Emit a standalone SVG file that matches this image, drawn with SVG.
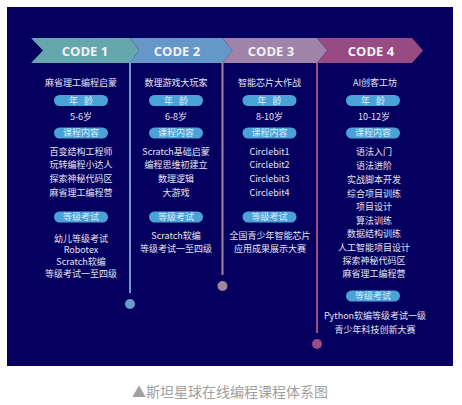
<svg xmlns="http://www.w3.org/2000/svg" width="462" height="405" viewBox="0 0 462 405">
<style>
.t{font-family:"Noto Sans CJK SC","Noto Sans",sans-serif;font-size:9px;fill:#e6e4f0;text-anchor:middle}
.p{font-family:"Noto Sans CJK SC","Noto Sans",sans-serif;font-size:9px;fill:#dcecf8;text-anchor:middle}
.w{word-spacing:4px}
.pill{fill:#4aa2d8}
.h{font-family:"Open Sans","Noto Sans",sans-serif;font-size:13px;font-weight:bold;fill:#f2f2f6;text-anchor:middle}
.cap{font-family:"Noto Sans CJK SC","Noto Sans",sans-serif;font-size:14px;fill:#a0a0a0;text-anchor:middle}
</style>
<rect width="462" height="405" fill="#ffffff"/>
<rect x="7" y="7" width="446" height="359" fill="#05005f"/>
<g id="connectors">
<line x1="130" y1="62" x2="130" y2="293" stroke="#6a9ccc" stroke-width="2"/>
<circle cx="130" cy="304" r="5" fill="#6a9ccc"/>
<line x1="222.5" y1="62" x2="222.5" y2="275" stroke="#a2849f" stroke-width="2"/>
<circle cx="222.5" cy="286" r="5" fill="#a2849f"/>
<line x1="317" y1="62" x2="317" y2="333" stroke="#9a4c84" stroke-width="2"/>
<circle cx="317" cy="344" r="5" fill="#9a4c84"/>
</g>
<g id="code1">
<polygon points="31,38 130,38 139,50.5 130,63 31,63 43,50.5" fill="#66a7ae"/>
<text class="h" x="85" y="56">CODE 1</text>
<text class="t" x="81" y="86">麻省理工编程启蒙</text>
<rect class="pill" x="54" y="95" width="54" height="11" rx="5.5"/>
<text class="p w" x="81" y="103.5">年 龄</text>
<text class="t" x="81" y="119.5">5-6岁</text>
<rect class="pill" x="54" y="127.5" width="54" height="11" rx="5.5"/>
<text class="p" x="81" y="136">课程内容</text>
<text class="t" x="81" y="154.5">百变结构工程师</text>
<text class="t" x="81" y="168">玩转编程小达人</text>
<text class="t" x="81" y="181.5">探索神秘代码区</text>
<text class="t" x="81" y="195.5">麻省理工编程营</text>
<rect class="pill" x="54" y="211.5" width="54" height="11" rx="5.5"/>
<text class="p" x="81" y="220">等级考试</text>
<text class="t" x="81" y="241.5">幼儿等级考试</text>
<text class="t" x="81" y="253">Robotex</text>
<text class="t" x="81" y="264.5">Scratch软编</text>
<text class="t" x="81" y="276.5">等级考试一至四级</text>
</g>
<g id="code2">
<polygon points="130,38 222.5,38 232.5,50.5 222.5,63 130,63 139,50.5" fill="#6598c8"/>
<text class="h" x="177" y="56">CODE 2</text>
<text class="t" x="176" y="86">数理游戏大玩家</text>
<rect class="pill" x="149" y="95" width="54" height="11" rx="5.5"/>
<text class="p w" x="176" y="103.5">年 龄</text>
<text class="t" x="176" y="119.5">6-8岁</text>
<rect class="pill" x="149" y="127.5" width="54" height="11" rx="5.5"/>
<text class="p" x="176" y="136">课程内容</text>
<text class="t" x="176" y="154.5">Scratch基础启蒙</text>
<text class="t" x="176" y="168">编程思维初建立</text>
<text class="t" x="176" y="181.5">数理逻辑</text>
<text class="t" x="176" y="195.5">大游戏</text>
<rect class="pill" x="149" y="211.5" width="54" height="11" rx="5.5"/>
<text class="p" x="176" y="220">等级考试</text>
<text class="t" x="176" y="238.5">Scratch软编</text>
<text class="t" x="176" y="251.5">等级考试一至四级</text>
</g>
<g id="code3">
<polygon points="222.5,38 317,38 327.5,50.5 317,63 222.5,63 232.5,50.5" fill="#a083a9"/>
<text class="h" x="271" y="56">CODE 3</text>
<text class="t" x="269.5" y="86">智能芯片大作战</text>
<rect class="pill" x="242.5" y="95" width="54" height="11" rx="5.5"/>
<text class="p w" x="269.5" y="103.5">年 龄</text>
<text class="t" x="269.5" y="119.5">8-10岁</text>
<rect class="pill" x="242.5" y="127.5" width="54" height="11" rx="5.5"/>
<text class="p" x="269.5" y="136">课程内容</text>
<text class="t" x="269.5" y="154.5">Circlebit1</text>
<text class="t" x="269.5" y="168">Circlebit2</text>
<text class="t" x="269.5" y="181.5">Circlebit3</text>
<text class="t" x="269.5" y="195.5">Circlebit4</text>
<rect class="pill" x="242.5" y="211.5" width="54" height="11" rx="5.5"/>
<text class="p" x="269.5" y="220">等级考试</text>
<text class="t" x="270" y="238.5">全国青少年智能芯片</text>
<text class="t" x="270" y="251.5">应用成果展示大赛</text>
</g>
<g id="code4">
<polygon points="317,38 412,38 423,50.5 412,63 317,63 327.5,50.5" fill="#984a83"/>
<text class="h" x="371" y="56">CODE 4</text>
<text class="t" x="375" y="86">AI创客工坊</text>
<rect class="pill" x="346" y="95" width="54" height="11" rx="5.5"/>
<text class="p w" x="373" y="103.5">年 龄</text>
<text class="t" x="374" y="119.5">10-12岁</text>
<rect class="pill" x="346" y="127.5" width="54" height="11" rx="5.5"/>
<text class="p" x="373" y="136">课程内容</text>
<text class="t" x="374" y="154.5">语法入门</text>
<text class="t" x="374" y="168.5">语法进阶</text>
<text class="t" x="374" y="182.5">实战脚本开发</text>
<text class="t" x="374" y="196.5">综合项目训练</text>
<text class="t" x="374" y="209.5">项目设计</text>
<text class="t" x="374" y="223.5">算法训练</text>
<text class="t" x="374" y="236.5">数据结构训练</text>
<text class="t" x="374" y="250.5">人工智能项目设计</text>
<text class="t" x="374" y="263.5">探索神秘代码区</text>
<text class="t" x="374" y="276.5">麻省理工编程营</text>
<rect class="pill" x="346" y="290.5" width="54" height="11" rx="5.5"/>
<text class="p" x="373" y="299">等级考试</text>
<text class="t" x="375" y="318.5">Python软编等级考试一级</text>
<text class="t" x="375" y="332.5">青少年科技创新大赛</text>
</g>
<text class="cap" x="230" y="397">▲斯坦星球在线编程课程体系图</text>
</svg>
